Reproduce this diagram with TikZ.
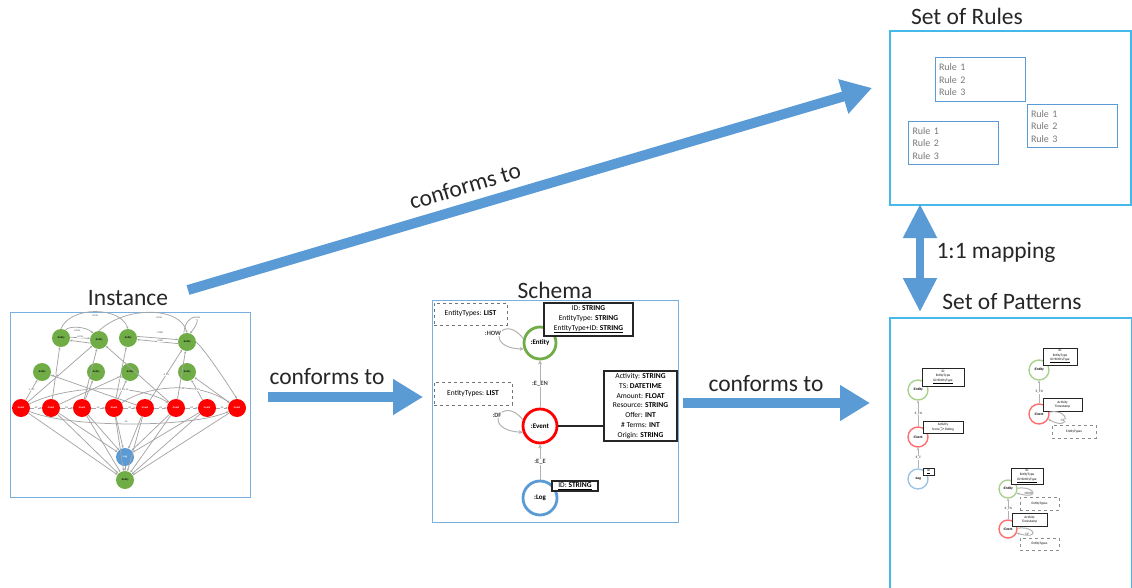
\documentclass[tikz,border=0pt]{standalone}
\usepackage{fontspec}
\setmainfont{Carlito}
\usetikzlibrary{arrows.meta,calc}
\definecolor{arrblue}{RGB}{91,155,213}
\definecolor{frameblue}{RGB}{120,175,225}
\definecolor{cyanbox}{RGB}{70,185,235}
\definecolor{gnode}{RGB}{112,173,71}
\definecolor{rnode}{RGB}{255,0,0}
\definecolor{bnode}{RGB}{91,155,213}
\definecolor{egray}{RGB}{165,165,165}
\definecolor{lgreen}{RGB}{169,209,142}
\definecolor{lred}{RGB}{255,110,110}
\definecolor{lblue}{RGB}{157,195,230}
\definecolor{rulegray}{RGB}{120,120,120}
\begin{document}
\begin{tikzpicture}[x=1pt,y=-1pt,
  title/.style={font=\fontsize{23.5}{26}\selectfont, text=black!85, inner sep=0},
  bigarrow/.style={draw=arrblue, line width=10pt, -{Triangle[width=34pt,length=30pt]}},
  dblarrow/.style={draw=arrblue, line width=8pt, {Triangle[width=32pt,length=34pt]}-{Triangle[width=32pt,length=34pt]}},
  frame/.style={draw=frameblue, line width=1pt, inner sep=0},
  cframe/.style={draw=cyanbox, line width=1.4pt, inner sep=0},
  ie/.style={draw=egray, line width=0.75pt, -{Stealth[length=2.4pt,width=2.2pt]}},
  ilab/.style={font=\fontsize{2.4}{3}\selectfont, text=black!70, fill=white, inner sep=0.3pt},
  gn/.style={circle, fill=gnode, minimum size=18pt, inner sep=0, font=\fontsize{2.6}{3}\selectfont\bfseries, text=black},
  rn/.style={circle, fill=rnode, minimum size=18pt, inner sep=0, font=\fontsize{2.6}{3}\selectfont\bfseries, text=white},
  bn/.style={circle, fill=bnode, minimum size=18pt, inner sep=0, font=\fontsize{2.6}{3}\selectfont\bfseries, text=white},
  sc/.style={circle, fill=white, line width=2.8pt, inner sep=0, font=\fontsize{7}{8}\selectfont\bfseries},
  se/.style={draw=black!30, line width=1pt, -{Stealth[length=4pt,width=4pt]}},
  slab/.style={font=\fontsize{6.5}{7}\selectfont\bfseries, text=black!75, fill=white, inner sep=0.5pt},
  sbox/.style={draw=black!85, line width=1.3pt, fill=white, inner sep=1pt, align=center, font=\fontsize{7.5}{9.7}\selectfont},
  dbox/.style={draw=black!55, dashed, line width=0.9pt, fill=white, inner sep=1pt, align=center, font=\fontsize{7.5}{9}\selectfont},
  rbox/.style={draw=arrblue, line width=1pt, inner sep=4pt, text width=82pt, align=left, font=\fontsize{10}{12.5}\selectfont, text=rulegray},
  pc/.style={circle, fill=white, line width=1.4pt, minimum size=20pt, inner sep=0, font=\fontsize{3.6}{4}\selectfont\bfseries},
  pbox/.style={draw=black!85, line width=1pt, fill=white, inner sep=0.5pt, align=center, font=\fontsize{3.4}{4.4}\selectfont},
  pdbox/.style={draw=black!45, dashed, line width=0.6pt, fill=white, inner sep=0.5pt, align=center, font=\fontsize{3.4}{4.4}\selectfont},
  pe/.style={draw=black!30, line width=1pt, -{Stealth[length=2.5pt,width=2.5pt]}},
  plab/.style={font=\fontsize{3.4}{4}\selectfont, text=black!75, fill=white, inner sep=0.3pt}
]
\useasboundingbox (0,0) rectangle (1132,588);

% ---------- Frames and titles ----------
\node[frame, minimum width=240pt, minimum height=185pt] (instbox) at (130,404.5) {};
\node[frame, minimum width=246pt, minimum height=222pt] (schbox) at (555,411) {};
\node[cframe, minimum width=241pt, minimum height=174pt] (rulebox) at (1010.5,118) {};
\node[cframe, minimum width=242pt, minimum height=272pt] (patbox) at (1011,454) {};

\node[title] (tinst) at (128,298) {Instance};
\node[title] (tschema) at (555,290) {Schema};
\node[title] (trules) at (967,16) {Set of Rules};
\node[title] (tpat) at (1012,302) {Set of Patterns};

% ---------- Big arrows ----------
\coordinate (d1) at (188,290);
\coordinate (d2) at (872,88);
\draw[bigarrow] (d1) -- (d2);
\node[title, rotate=16.5] (lbl1) at (465,186) {conforms to};

\coordinate (h1s) at (268,397);
\coordinate (h1e) at (423,397);
\draw[bigarrow] (h1s) -- (h1e);
\node[title] (lbl2) at (327,377) {conforms to};

\coordinate (h2s) at (683,403);
\coordinate (h2e) at (870,403);
\draw[bigarrow] (h2s) -- (h2e);
\node[title] (lbl3) at (766,384) {conforms to};

\coordinate (v1) at (920,204);
\coordinate (v2) at (920,312);
\draw[dblarrow] (v1) -- (v2);
\node[title] (lbl4) at (996,252) {1:1 mapping};

% ---------- Instance graph ----------
\node[gn] (t1) at (61,338) {:Entity};
\node[gn] (t2) at (99,340) {:Entity};
\node[gn] (t3) at (128,338) {:Entity};
\node[gn] (t4) at (187,342) {:Entity};
\node[gn] (m1) at (42,372) {:Entity};
\node[gn] (m2) at (96,372) {:Entity};
\node[gn] (m3) at (130,372) {:Entity};
\node[gn] (m4) at (187,372) {:Entity};
\foreach \n/\x in {1/21,2/51,3/82,4/114,5/145,6/176,7/207,8/237}
  \node[rn] (r\n) at (\x,408) {:Event};
\node[bn] (lg) at (125,457) {:Log};
\node[gn] (bt) at (125,480) {:Entity};

\foreach \a/\b in {1/2,2/3,3/4,4/5,5/6,6/7,7/8}
  \draw[ie] (r\a) -- (r\b) node[midway,ilab]{:DF};
\foreach \a in {1,...,8}
  \draw[ie] (r\a) -- (bt);
\foreach \a in {2,...,7}
  \draw[ie] (r\a) -- (lg);
\draw[ie] (lg) -- (bt);
\draw[ie] (r1) .. controls (70,384) and (140,384) .. (r6);
\node[ilab] at (127,390) {:DF};
\draw[ie] (r4) .. controls (150,384) and (200,382) .. (r8);
\node[ilab] at (183,389) {:DF};
\draw[ie] (r1) .. controls (70,428) and (190,428) .. (r8);
\node[ilab] at (126,422) {:DF};
\draw[ie] (r2) -- (t1) node[pos=0.45,ilab]{:E\_EN};
\draw[ie] (r1) -- (m1) node[pos=0.5,ilab]{:E\_EN};
\draw[ie] (r1) -- (t2);
\draw[ie] (r3) -- (m2) node[pos=0.5,ilab]{:E\_EN};
\draw[ie] (r3) -- (t2);
\draw[ie] (r4) -- (t3) node[pos=0.4,ilab]{:E\_EN};
\draw[ie] (r4) -- (m3) node[pos=0.5,ilab]{:E\_EN};
\draw[ie] (r5) -- (t4) node[pos=0.5,ilab]{:E\_EN};
\draw[ie] (r6) -- (t2);
\draw[ie] (r7) -- (m4) node[pos=0.5,ilab]{:E\_EN};
\draw[ie] (r8) -- (m4);
\draw[ie] (r6) -- (t4);
\draw[ie] (r2) -- (m3);
\draw[ie] (r5) -- (m1);
\draw[ie] (t4.east) .. controls (205,350) and (225,380) .. (r8.north);
\draw[ie] (t1.north) .. controls (70,306) and (120,306) .. (t3.north);
\node[ilab] at (95,316) {:HOW};
\draw[ie] (t2.north) .. controls (125,306) and (180,306) .. (t4.north);
\node[ilab] at (159,318) {:HOW};
\draw[ie] (t4.110) .. controls (185,312) and (208,312) .. (t4.70);
\node[ilab] at (197,318) {:HOW};
\draw[ie] (t1.5) -- (t2.170);
\draw[ie] (t2.200) -- (t1.-15);
\node[ilab] at (80,337) {:HOW};
\draw[ie] (t1.60) .. controls (68,326) and (85,326) .. (t2.130);
\node[ilab] at (77,331) {:HOW};
\draw[ie] (t3.10) -- (t4.165);
\draw[ie] (t4.190) -- (t3.-10);
\node[ilab] at (160,333) {:CORR};
\node[ilab] at (160,341) {:CORR};

% ---------- Schema ----------
\node[sc, draw=gnode, minimum size=32pt] (ent) at (540,343) {:Entity};
\node[sc, draw=rnode, minimum size=34pt] (evt) at (540,426) {:Event};
\node[sc, draw=bnode, minimum size=34pt] (slog) at (540,498) {:Log};

\node[dbox, minimum width=73pt, minimum height=22pt] (db1) at (470.5,314) {EntityTypes: \textbf{LIST}};
\node[dbox, minimum width=78pt, minimum height=23pt] (db2) at (473,393.5) {EntityTypes: \textbf{LIST}};

\draw[se] (ent.165) .. controls (503,312) and (482,348) .. (ent.200);
\node[slab] at (493,333) {:HOW};
\draw[se] (evt.160) .. controls (503,394) and (480,430) .. (evt.200);
\node[slab] at (497,415) {:DF};

\draw[se] (evt.north) -- (ent.south) node[midway,slab]{:E\_EN};
\draw[se] (slog.north) -- (evt.south) node[midway,slab]{:E\_E};

\node[sbox, minimum width=89pt, minimum height=33pt] (entbox) at (588.5,319.5)
  {ID: \textbf{STRING}\\EntityType: \textbf{STRING}\\\underline{EntityType+ID: \textbf{STRING}}};
\node[sbox, minimum width=73pt, minimum height=70pt] (evbox) at (640.5,406)
  {Activity: \textbf{STRING}\\TS: \textbf{DATETIME}\\Amount: \textbf{FLOAT}\\Resource: \textbf{STRING}\\Offer: \textbf{INT}\\\# Terms: \textbf{INT}\\Origin: \textbf{STRING}};
\draw[black!85, line width=1.3pt] (evt.east) -- (evt.east -| evbox.west);
\node[sbox, minimum width=46pt, minimum height=10pt, inner sep=0.5pt] (logbox) at (575,486) {\underline{ID: \textbf{STRING}}};

% ---------- Set of Rules ----------
\node[rbox, minimum height=44pt] (rb1) at (980,80) {Rule 1\\Rule 2\\Rule 3};
\node[rbox, minimum height=43pt] (rb2) at (1072,126.5) {Rule 1\\Rule 2\\Rule 3};
\node[rbox, minimum height=43pt] (rb3) at (953.5,143.5) {Rule 1\\Rule 2\\Rule 3};

% ---------- Set of Patterns ----------
% pattern 1
\node[pc, draw=lgreen] (p1e) at (918,390) {:Entity};
\node[pc, draw=lred] (p1v) at (918,437) {:Event};
\node[pc, draw=lblue] (p1l) at (918,479) {:Log};
\draw[pe] (p1v) -- (p1e) node[midway,plab]{:E\_EN};
\draw[pe] (p1l) -- (p1v) node[midway,plab]{:E\_E};
\node[pbox, minimum width=42pt, minimum height=18pt] (p1eb) at (943,377) {ID\\EntityType\\\underline{ID+EntityType}};
\node[pbox, minimum width=40pt, minimum height=12pt] (p1vb) at (943,427) {Activity\\Score$>$Rating};
\node[pbox, minimum width=11pt, minimum height=7pt] (p1lb) at (928.5,471.5) {\underline{ID}};

% pattern 2
\node[pc, draw=lgreen] (p2e) at (1039,370) {:Entity};
\node[pc, draw=lred] (p2v) at (1039,414) {:Event};
\draw[pe] (p2v) -- (p2e) node[midway,plab]{:E\_EN};
\node[pbox, minimum width=34pt, minimum height=17pt] (p2eb) at (1060,356.5) {ID\\EntityType\\\underline{ID+EntityType}};
\node[pbox, minimum width=39pt, minimum height=13pt] (p2vb) at (1062.5,404.5) {Activity\\Timestamp};
\node[pdbox, minimum width=44pt, minimum height=13pt] (p2d) at (1074,431.5) {EntityTypes};
\draw[pe] (p2v.10) .. controls (1070,408) and (1072,432) .. (p2v.-30);
\node[plab] at (1063,420) {:DF};

% pattern 3
\node[pc, draw=lgreen, minimum size=18pt] (p3e) at (1008,489) {:Entity};
\node[pc, draw=lred, minimum size=18pt] (p3v) at (1008,529) {:Event};
\draw[pe] (p3v) -- (p3e) node[midway,plab]{:E\_EN};
\node[pbox, minimum width=32pt, minimum height=16pt] (p3eb) at (1027,476) {ID\\EntityType\\\underline{ID+EntityType}};
\node[pbox, minimum width=35pt, minimum height=13pt] (p3vb) at (1029.5,519.5) {Activity\\Timestamp};
\node[pdbox, minimum width=39pt, minimum height=13pt] (p3d1) at (1039.5,503.5) {EntityTypes};
\node[pdbox, minimum width=39pt, minimum height=12pt] (p3d2) at (1039.5,544) {EntityTypes};
\draw[pe] (p3e.5) .. controls (1036,486) and (1040,500) .. (p3e.-25);
\node[plab] at (1028,493) {:HOW};
\draw[pe] (p3v.5) .. controls (1036,526) and (1040,540) .. (p3v.-25);
\node[plab] at (1027,534) {:DF};
\end{tikzpicture}
\end{document}
